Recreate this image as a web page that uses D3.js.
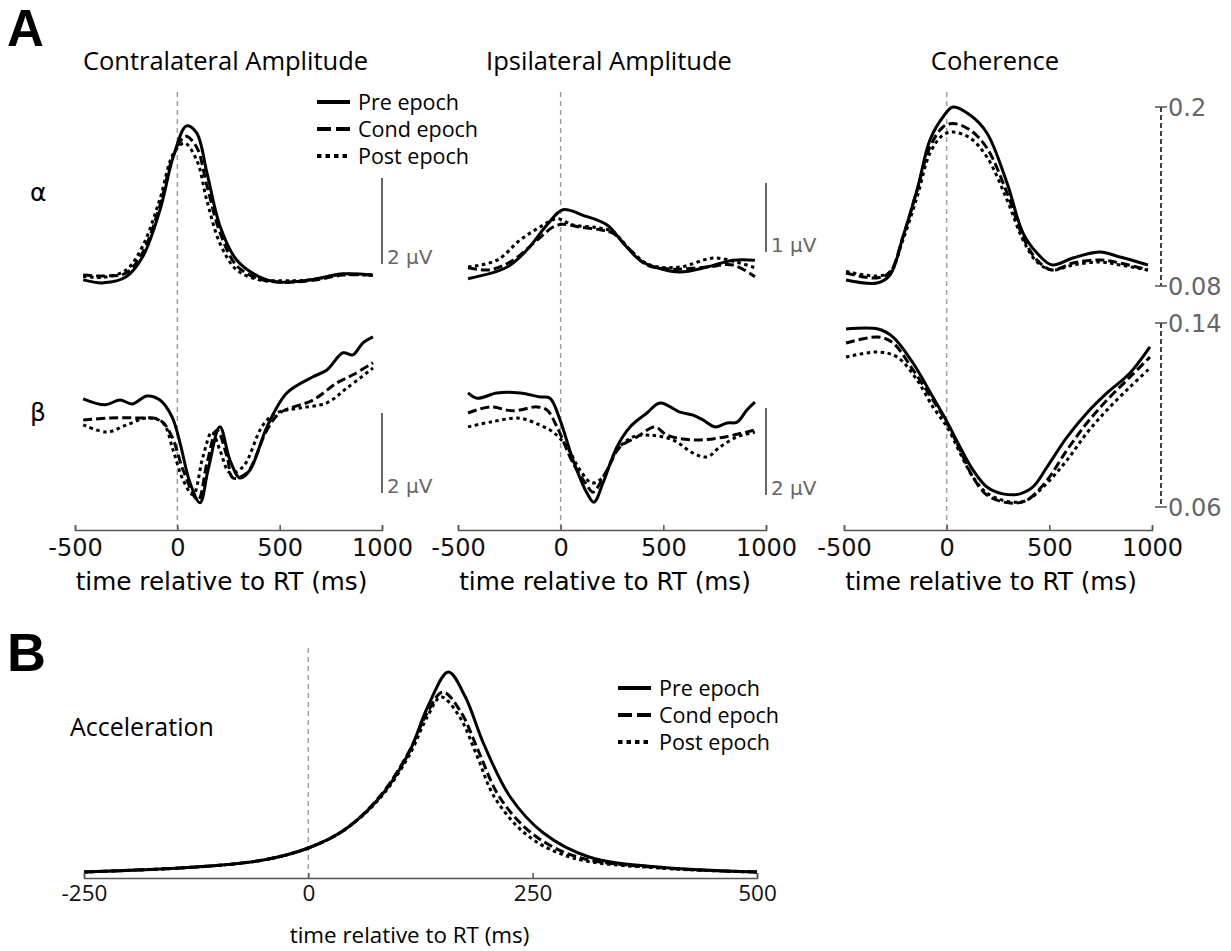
<!DOCTYPE html>
<html lang="en">
<head>
<meta charset="UTF-8">
<title>Amplitude, coherence and acceleration by epoch</title>
<script src="https://d3js.org/d3.v7.min.js"></script>
<style>
  body { margin: 0; background: #fff; }
  svg { display: block; }
</style>
</head>
<body>
<script>

// series names and line styles (Pre solid, Cond dashed, Post dotted)
var epochs = ["Pre epoch", "Cond epoch", "Post epoch"];
var dashes = [null, "9,4", "3.5,3.5"];

var columnTitles = ["Contralateral Amplitude", "Ipsilateral Amplitude", "Coherence"];
var bandLabels = ["α", "β"];
var timeTicks = [-500, 0, 500, 1000];
var accelTicks = [-250, 0, 250, 500];

// [time ms, value] -- contralateral amplitude, alpha (uV, arbitrary offset)
var contraAlphaPre = [[-460,0.12],[-360,0.05],[-250,0.19],[-170,0.65],[-85,1.74],[-20,2.98],[45,3.7],[95,3.53],[145,2.6],[210,1.35],[290,0.58],[400,0.19],[490,0.07],[650,0.12],[810,0.26],[955,0.23]];
var contraAlphaCond = [[-460,0.23],[-360,0.21],[-250,0.28],[-170,0.75],[-85,1.85],[-20,3.0],[40,3.46],[95,3.2],[145,2.3],[210,1.2],[290,0.45],[400,0.14],[490,0.07],[650,0.1],[810,0.23],[955,0.23]];
var contraAlphaPost = [[-460,0.2],[-360,0.18],[-250,0.35],[-170,0.9],[-85,2.0],[-20,3.05],[35,3.3],[95,2.9],[145,1.95],[210,0.95],[290,0.35],[400,0.12],[490,0.1],[650,0.12],[810,0.25],[955,0.22]];

// contralateral amplitude, beta
var contraBetaPre = [[-460,3.03],[-353,2.88],[-280,3.0],[-221,2.9],[-148,3.1],[-85,3.0],[-26,2.58],[13,1.93],[62,0.93],[111,0.43],[150,1.25],[208,2.33],[257,1.5],[306,1.05],[355,1.25],[438,2.33],[536,3.18],[663,3.58],[731,3.75],[809,4.18],[858,4.13],[907,4.43],[956,4.58]];
var contraBetaCond = [[-460,2.5],[-329,2.55],[-197,2.55],[-85,2.5],[-26,2.08],[28,1.25],[101,0.5],[145,1.43],[194,2.25],[243,1.58],[272,1.05],[340,1.18],[438,2.25],[502,2.68],[663,3.0],[780,3.43],[858,3.63],[956,3.93]];
var contraBetaPost = [[-460,2.38],[-344,2.2],[-246,2.38],[-148,2.55],[-70,2.43],[-21,1.75],[28,1.0],[77,0.63],[125,1.58],[169,2.2],[208,1.75],[257,1.18],[321,1.33],[419,2.38],[487,2.68],[599,2.8],[731,2.93],[829,3.3],[956,3.8]];

// ipsilateral amplitude, alpha
var ipsiAlphaPre = [[-451,0.09],[-261,0.26],[-164,0.51],[-67,0.87],[11,1.09],[109,1.01],[226,0.87],[304,0.61],[386,0.36],[469,0.25],[581,0.19],[713,0.26],[839,0.36],[946,0.36]];
var ipsiAlphaCond = [[-451,0.25],[-344,0.22],[-232,0.36],[-115,0.65],[-37,0.84],[11,0.88],[94,0.84],[192,0.8],[255,0.75],[338,0.51],[420,0.29],[547,0.23],[713,0.26],[839,0.29],[946,0.12]];
var ipsiAlphaPost = [[-451,0.26],[-310,0.36],[-198,0.65],[-101,0.84],[-18,0.96],[60,0.87],[177,0.83],[255,0.77],[338,0.51],[435,0.29],[581,0.26],[742,0.39],[859,0.33],[946,0.25]];

// ipsilateral amplitude, beta
var ipsiBetaPre = [[-451,2.92],[-407,2.8],[-310,2.92],[-198,2.92],[-101,2.83],[-52,2.8],[-3,2.3],[60,1.38],[128,0.62],[162,0.41],[206,0.85],[274,1.68],[338,2.14],[420,2.46],[484,2.69],[581,2.48],[645,2.41],[693,2.3],[752,2.14],[810,2.23],[859,2.25],[907,2.53],[946,2.71]];
var ipsiBetaCond = [[-451,2.46],[-344,2.6],[-232,2.51],[-115,2.6],[-67,2.53],[-18,2.14],[60,1.31],[128,0.8],[157,0.64],[226,1.15],[289,1.68],[372,1.91],[459,2.14],[518,1.95],[645,1.84],[776,1.89],[946,2.07]];
var ipsiBetaPost = [[-451,2.14],[-344,2.25],[-198,2.34],[-101,2.18],[-37,2.02],[31,1.68],[94,1.15],[153,0.85],[206,0.99],[274,1.61],[352,1.91],[435,1.95],[547,1.84],[645,1.54],[713,1.45],[776,1.68],[859,1.91],[946,2.02]];

// coherence, alpha
var cohAlphaPre = [[-490,0.084],[-339,0.082],[-276,0.0874],[-213,0.1128],[-144,0.1444],[-81,0.178],[-18,0.1933],[31,0.2],[114,0.1946],[196,0.1826],[294,0.149],[372,0.1155],[440,0.1021],[513,0.0941],[615,0.0988],[747,0.1028],[844,0.0994],[980,0.0941]];
var cohAlphaCond = [[-490,0.0887],[-339,0.0854],[-276,0.0894],[-213,0.1128],[-144,0.1444],[-81,0.1732],[-18,0.1866],[31,0.189],[114,0.1846],[196,0.1725],[294,0.1424],[372,0.1128],[440,0.0974],[513,0.0907],[615,0.0954],[747,0.0974],[844,0.0954],[980,0.0907]];
var cohAlphaPost = [[-490,0.0897],[-339,0.0867],[-276,0.0894],[-213,0.1108],[-144,0.1397],[-81,0.1692],[-18,0.1812],[31,0.1832],[114,0.1792],[196,0.1665],[294,0.1377],[372,0.1108],[440,0.0961],[513,0.0907],[615,0.0941],[747,0.0961],[844,0.0941],[980,0.0907]];

// coherence, beta
var cohBetaPre = [[-490,0.1374],[-334,0.1374],[-261,0.1339],[-164,0.1226],[-67,0.1078],[2,0.097],[65,0.0861],[128,0.0761],[196,0.0687],[274,0.0657],[357,0.0657],[420,0.0687],[489,0.0774],[586,0.0904],[683,0.1009],[781,0.1096],[893,0.1183],[990,0.1296]];
var cohBetaCond = [[-490,0.1313],[-334,0.1339],[-261,0.1313],[-164,0.1196],[-67,0.1065],[2,0.0965],[65,0.0848],[128,0.073],[196,0.0652],[308,0.0617],[391,0.063],[489,0.0717],[586,0.0848],[683,0.0965],[781,0.1065],[893,0.1165],[990,0.1252]];
var cohBetaPost = [[-490,0.1252],[-334,0.1274],[-241,0.1252],[-144,0.1152],[-67,0.1035],[2,0.0948],[65,0.0835],[128,0.073],[196,0.0661],[308,0.0622],[391,0.063],[489,0.0704],[586,0.0804],[683,0.0922],[781,0.1022],[893,0.1122],[990,0.1204]];

// acceleration (normalised)
var accelPre = [[-250,0],[-125,0.025],[-50,0.06],[0,0.12],[40,0.21],[80,0.375],[112,0.595],[133,0.825],[156,1.0],[175,0.875],[195,0.645],[225,0.375],[262,0.195],[313,0.075],[390,0.025],[500,0]];
var accelCond = [[-250,0],[-125,0.025],[-50,0.06],[0,0.12],[40,0.21],[80,0.38],[112,0.6],[133,0.8],[150,0.9],[170,0.8],[190,0.6],[213,0.375],[250,0.19],[300,0.075],[390,0.022],[500,0]];
var accelPost = [[-250,0],[-125,0.025],[-50,0.06],[0,0.12],[40,0.21],[80,0.37],[112,0.58],[133,0.78],[148,0.875],[168,0.78],[188,0.58],[208,0.37],[245,0.18],[295,0.07],[390,0.02],[500,0]];


var width = 1231,
    height = 951,
    axisY = 530,
    greyAxis = "#555",
    numFont = "'DejaVu Sans', sans-serif",
    textFont = "'Open Sans', sans-serif";

var svg = d3.select("body")
    .append("svg")
    .attr("width", width)
    .attr("height", height);

// three columns of panel A
var columns = [
    {x0: 75, x1: 382, title: columnTitles[0]},
    {x0: 458, x1: 766, title: columnTitles[1]},
    {x0: 844, x1: 1152, title: columnTitles[2]}
];

var panels = [
    {col: 0, domain: [0, 4], range: [285, 113], series: [contraAlphaPre, contraAlphaCond, contraAlphaPost], bar: [0.49, 2.49], barLabel: "2 μV"},
    {col: 0, domain: [0, 5], range: [520, 320], series: [contraBetaPre, contraBetaCond, contraBetaPost], bar: [0.675, 2.675], barLabel: "2 μV"},
    {col: 1, domain: [0, 2], range: [285, 147], series: [ipsiAlphaPre, ipsiAlphaCond, ipsiAlphaPost], bar: [0.478, 1.478], barLabel: "1 μV"},
    {col: 1, domain: [0, 4], range: [520, 346], series: [ipsiBetaPre, ipsiBetaCond, ipsiBetaPost], bar: [0.575, 2.575], barLabel: "2 μV"},
    {col: 2, domain: [0.08, 0.2], range: [286, 107], series: [cohAlphaPre, cohAlphaCond, cohAlphaPost], ticks: [0.2, 0.08]},
    {col: 2, domain: [0.06, 0.14], range: [507, 323], series: [cohBetaPre, cohBetaCond, cohBetaPost], ticks: [0.14, 0.06]}
];

var xScales = columns.map(function (c) {
    return d3.scaleLinear().domain([-500, 1000]).range([c.x0, c.x1]);
});

// panel letters
svg.append("text").attr("x", 7).attr("y", 46)
    .attr("font-family", "'Liberation Sans', Arial, sans-serif")
    .attr("font-weight", "bold").attr("font-size", 51).text("A");
svg.append("text").attr("x", 7).attr("y", 671)
    .attr("font-family", "'Liberation Sans', Arial, sans-serif")
    .attr("font-weight", "bold").attr("font-size", 54).text("B");

// band labels
svg.append("text").attr("x", 30).attr("y", 201)
    .attr("font-family", numFont).attr("font-size", 25).text(bandLabels[0]);
svg.append("text").attr("x", 30).attr("y", 421)
    .attr("font-family", numFont).attr("font-size", 25).text(bandLabels[1]);

columns.forEach(function (c, i) {
    var x = xScales[i];

    svg.append("text")
        .attr("x", (c.x0 + c.x1) / 2 - 3)
        .attr("y", 70)
        .attr("text-anchor", "middle")
        .attr("font-family", textFont)
        .attr("font-size", 25.5)
        .text(c.title);

    // zero line
    svg.append("line")
        .attr("x1", x(0)).attr("x2", x(0))
        .attr("y1", 92).attr("y2", axisY)
        .attr("stroke", "#a0a0a0")
        .attr("stroke-width", 1.5)
        .attr("stroke-dasharray", "5,4");

    var g = svg.append("g")
        .attr("transform", "translate(0," + axisY + ")")
        .call(d3.axisBottom(x)
            .tickValues(timeTicks)
            .tickSizeInner(-5)
            .tickSizeOuter(-5)
            .tickPadding(9)
            .tickFormat(d3.format("d")));
    g.select(".domain").attr("stroke", greyAxis).attr("stroke-width", 1.5);
    g.selectAll(".tick line").attr("stroke", greyAxis).attr("stroke-width", 1.5);
    g.selectAll(".tick text")
        .attr("font-family", numFont)
        .attr("font-size", 24)
        .attr("fill", "#111")
        .text(function (d) { return d; });

    svg.append("text")
        .attr("x", (c.x0 + c.x1) / 2 - 7)
        .attr("y", 590)
        .attr("text-anchor", "middle")
        .attr("font-family", numFont)
        .attr("font-size", 24.7)
        .text("time relative to RT (ms)");
});

panels.forEach(function (p) {
    var x = xScales[p.col];
    var y = d3.scaleLinear().domain(p.domain).range(p.range);
    var line = d3.line()
        .x(function (d) { return x(d[0]); })
        .y(function (d) { return y(d[1]); })
        .curve(d3.curveCatmullRom.alpha(0.5));

    svg.append("g").selectAll("path")
        .data(p.series)
        .enter()
        .append("path")
        .attr("d", line)
        .attr("fill", "none")
        .attr("stroke", "#000")
        .attr("stroke-width", 3)
        .attr("stroke-linejoin", "round")
        .attr("stroke-dasharray", function (d, i) { return dashes[i]; });

    if (p.bar) {
        var bx = columns[p.col].x1;
        svg.append("line")
            .attr("x1", bx).attr("x2", bx)
            .attr("y1", y(p.bar[0])).attr("y2", y(p.bar[1]))
            .attr("stroke", "#666").attr("stroke-width", 2);
        svg.append("text")
            .attr("x", bx + 5).attr("y", y(p.bar[0]))
            .attr("font-family", numFont).attr("font-size", 20)
            .attr("fill", "#666")
            .text(p.barLabel);
    } else {
        var ax = 1161;
        svg.append("line")
            .attr("x1", ax).attr("x2", ax)
            .attr("y1", y(p.ticks[0])).attr("y2", y(p.ticks[1]))
            .attr("stroke", "#000").attr("stroke-width", 1.5)
            .attr("stroke-dasharray", "5,3");
        svg.append("g").selectAll("line")
            .data(p.ticks).enter().append("line")
            .attr("x1", ax - 6).attr("x2", ax + 6)
            .attr("y1", function (d) { return y(d); })
            .attr("y2", function (d) { return y(d); })
            .attr("stroke", greyAxis).attr("stroke-width", 1.5);
        svg.append("g").selectAll("text")
            .data(p.ticks).enter().append("text")
            .attr("x", ax + 7)
            .attr("y", function (d) { return y(d); })
            .attr("dy", "0.36em")
            .attr("font-family", numFont).attr("font-size", 24)
            .attr("fill", "#666")
            .text(function (d) { return d; });
    }
});

// legend helper
function legend(x0, y0) {
    var lg = svg.append("g");
    epochs.forEach(function (name, i) {
        var yy = y0 + i * 27;
        lg.append("line")
            .attr("x1", x0).attr("x2", x0 + 33)
            .attr("y1", yy).attr("y2", yy)
            .attr("stroke", "#000").attr("stroke-width", 4)
            .attr("stroke-dasharray", i === 1 ? "14,5" : (i === 2 ? "4.5,4" : null));
        lg.append("text")
            .attr("x", x0 + 41).attr("y", yy)
            .attr("dy", "0.35em")
            .attr("font-family", textFont).attr("font-size", 21.5)
            .text(name);
    });
}
legend(317, 102);

// panel B
var xb = d3.scaleLinear().domain([-250, 500]).range([84, 757]);
var yb = d3.scaleLinear().domain([0, 1]).range([872, 672]);
var axisYB = 878;

svg.append("line")
    .attr("x1", xb(0)).attr("x2", xb(0))
    .attr("y1", 648).attr("y2", axisYB)
    .attr("stroke", "#a0a0a0")
    .attr("stroke-width", 1.5)
    .attr("stroke-dasharray", "5,4");

var lineB = d3.line()
    .x(function (d) { return xb(d[0]); })
    .y(function (d) { return yb(d[1]); })
    .curve(d3.curveCatmullRom.alpha(0.5));

svg.append("g").selectAll("path")
    .data([accelPre, accelCond, accelPost])
    .enter()
    .append("path")
    .attr("d", lineB)
    .attr("fill", "none")
    .attr("stroke", "#000")
    .attr("stroke-width", 3)
    .attr("stroke-dasharray", function (d, i) { return dashes[i]; });

var gb = svg.append("g")
    .attr("transform", "translate(0," + axisYB + ")")
    .call(d3.axisBottom(xb)
        .tickValues(accelTicks)
        .tickSizeInner(-5)
        .tickSizeOuter(-5)
        .tickPadding(7)
        .tickFormat(d3.format("d")));
gb.select(".domain").attr("stroke", greyAxis).attr("stroke-width", 1.5);
gb.selectAll(".tick line").attr("stroke", greyAxis).attr("stroke-width", 1.5);
gb.selectAll(".tick text")
    .attr("font-family", textFont)
    .attr("font-size", 22.5)
    .attr("fill", "#111")
    .text(function (d) { return d; });

svg.append("text")
    .attr("x", (84 + 757) / 2 - 11)
    .attr("y", 943)
    .attr("text-anchor", "middle")
    .attr("font-family", textFont)
    .attr("font-size", 22.4)
    .text("time relative to RT (ms)");

svg.append("text")
    .attr("x", 70).attr("y", 736)
    .attr("font-family", textFont).attr("font-size", 25)
    .text("Acceleration");

legend(618, 688);

</script>
</body>
</html>
